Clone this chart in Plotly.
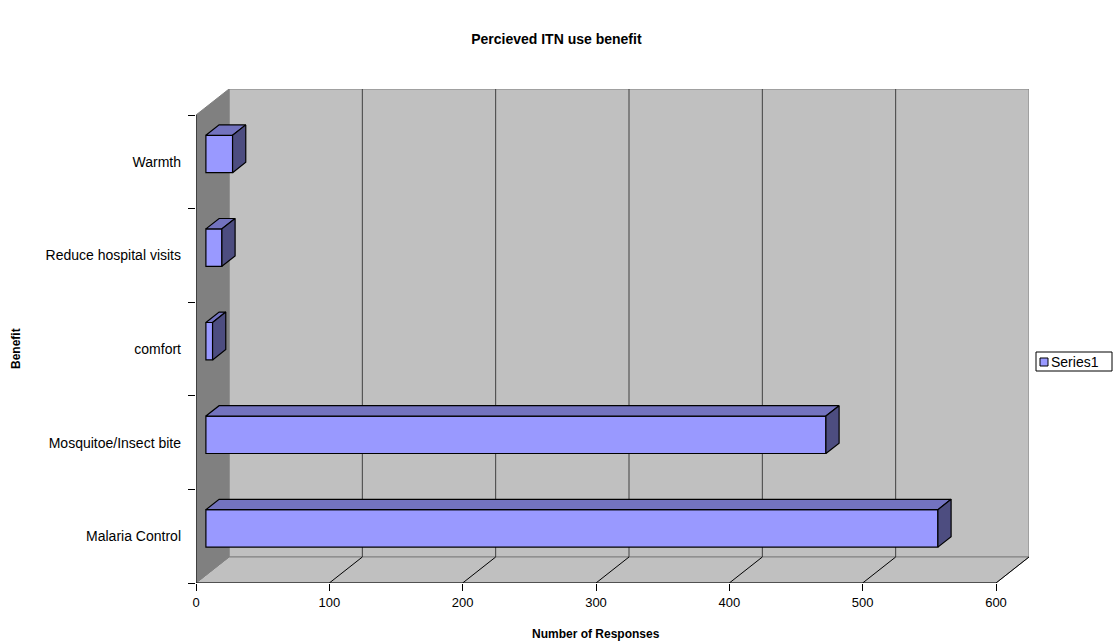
import plotly.graph_objects as go

# Survey data: perceived benefits of ITN use
categories = ["Malaria Control", "Mosquitoe/Insect bite", "comfort",
              "Reduce hospital visits", "Warmth"]
responses = [549, 465, 5, 12, 20]
x_ticks = [0, 100, 200, 300, 400, 500, 600]

# 3-D projection geometry (in axis units)
X_MAX = 600
DEPTH_X = 24.75          # horizontal shift of the back wall
DEPTH_Y = 0.2778         # vertical shift of the back wall
BAR_FRONT, BAR_BACK = 0.3, 0.7   # bar depth fractions
BAR_HALF = 0.2           # half of bar thickness (category units)
N = len(categories)

FRONT = "#9999FF"
TOP = "#7373BF"
SIDE = "#4D4D80"
WALL = "#C0C0C0"
SIDEWALL = "#808080"
GRID = "#404040"

fig = go.Figure()


def poly(xs, ys, fill, line="#808080", width=1, axes=("x", "y")):
    fig.add_trace(go.Scatter(
        x=xs + [xs[0]], y=ys + [ys[0]], mode="lines", fill="toself",
        fillcolor=fill, line=dict(color=line, width=width),
        xaxis=axes[0], yaxis=axes[1],
        hoverinfo="skip", showlegend=False))


def seg(xs, ys, color, width=1):
    fig.add_trace(go.Scatter(
        x=xs, y=ys, mode="lines", line=dict(color=color, width=width),
        hoverinfo="skip", showlegend=False))


# back wall, floor, side wall
poly([DEPTH_X, X_MAX + DEPTH_X, X_MAX + DEPTH_X, DEPTH_X],
     [DEPTH_Y, DEPTH_Y, N + DEPTH_Y, N + DEPTH_Y], WALL)
poly([0, X_MAX, X_MAX + DEPTH_X, DEPTH_X],
     [0, 0, DEPTH_Y, DEPTH_Y], WALL)
poly([0, 0, DEPTH_X, DEPTH_X],
     [0, N, N + DEPTH_Y, DEPTH_Y], SIDEWALL)

# gridlines on the back wall and the floor
for v in x_ticks[1:-1]:
    seg([v + DEPTH_X, v + DEPTH_X], [DEPTH_Y, N + DEPTH_Y], GRID)
for v in x_ticks[1:]:
    seg([v, v + DEPTH_X], [0, DEPTH_Y], "#000000")

# axis lines
seg([0, X_MAX], [0, 0], "#000000")
seg([0, 0], [0, N], "#000000")

# bar front faces (on an overlay so they sit above the walls)
dx0, dy0 = BAR_FRONT * DEPTH_X, BAR_FRONT * DEPTH_Y
dx1, dy1 = BAR_BACK * DEPTH_X, BAR_BACK * DEPTH_Y
centers = [i + 0.5 + dy0 for i in range(N)]
fig.add_trace(go.Bar(
    x=responses, y=centers, base=dx0, orientation="h", width=2 * BAR_HALF,
    marker=dict(color=FRONT, line=dict(color="#000000", width=1.2)),
    xaxis="x2", yaxis="y2", name="Series1", showlegend=False,
    hoverinfo="x"))

# bar top and side faces
ddx, ddy = dx1 - dx0, dy1 - dy0
for c, v in zip(centers, responses):
    yt, yb = c + BAR_HALF, c - BAR_HALF
    x0, x1 = dx0, dx0 + v
    poly([x0, x1, x1 + ddx, x0 + ddx], [yt, yt, yt + ddy, yt + ddy],
         TOP, line="#000000", width=1.2, axes=("x2", "y2"))
    poly([x1, x1, x1 + ddx, x1 + ddx], [yb, yt, yt + ddy, yb + ddy],
         SIDE, line="#000000", width=1.2, axes=("x2", "y2"))


def px_x(p):
    return (p - 196) / 833


def px_y(p):
    return (583 - p) / 494


font = "Liberation Sans, Arial, sans-serif"
hidden = dict(visible=False, fixedrange=True)
fig.update_layout(
    width=1115, height=643,
    margin=dict(l=196, r=86, t=89, b=60, autoexpand=False),
    paper_bgcolor="white", plot_bgcolor="white",
    font=dict(family=font, size=13, color="#000000"),
    showlegend=False,
    title=dict(text="<b>Percieved ITN use benefit</b>", x=0.499,
               xanchor="center", y=1 - 39 / 643, yanchor="middle",
               font=dict(size=14)),
    xaxis=dict(range=[0, X_MAX + DEPTH_X], tickvals=x_ticks,
               ticks="outside", ticklen=7, tickcolor="#000000",
               showgrid=False, zeroline=False, showline=False,
               fixedrange=True, tickfont=dict(size=13)),
    yaxis=dict(range=[0, N + DEPTH_Y],
               tickvals=[i + 0.5 for i in range(N)], ticktext=categories,
               ticks="", ticklabelstandoff=14, showgrid=False,
               zeroline=False, showline=False, fixedrange=True,
               tickfont=dict(size=14),
               minor=dict(tickmode="array", tickvals=list(range(N + 1)),
                          ticks="outside", ticklen=7, tickcolor="#000000",
                          showgrid=False)),
    xaxis2=dict(range=[0, X_MAX + DEPTH_X], overlaying="x", **hidden),
    yaxis2=dict(range=[0, N + DEPTH_Y], overlaying="y", **hidden),
    shapes=[
        # legend box and key
        dict(type="rect", xref="paper", yref="paper",
             x0=px_x(1036), x1=px_x(1112), y0=px_y(371), y1=px_y(352),
             line=dict(color="#000000", width=1), fillcolor="white"),
        dict(type="rect", xref="paper", yref="paper",
             x0=px_x(1040), x1=px_x(1048), y0=px_y(366), y1=px_y(358),
             line=dict(color="#000000", width=1), fillcolor=FRONT),
    ],
    annotations=[
        dict(text="Series1", xref="paper", x=px_x(1049), xanchor="left",
             yref="paper", y=px_y(361.5), yanchor="middle",
             showarrow=False, font=dict(size=14)),
        dict(text="<b>Number of Responses</b>", xref="x", x=300,
             yref="paper", y=0, yshift=-51, yanchor="middle",
             showarrow=False, font=dict(size=12)),
        dict(text="<b>Benefit</b>", xref="paper", x=0, xshift=-180,
             yref="y", y=N / 2, textangle=-90, showarrow=False,
             xanchor="center", font=dict(size=12)),
    ],
)

fig.write_html("out.html")
